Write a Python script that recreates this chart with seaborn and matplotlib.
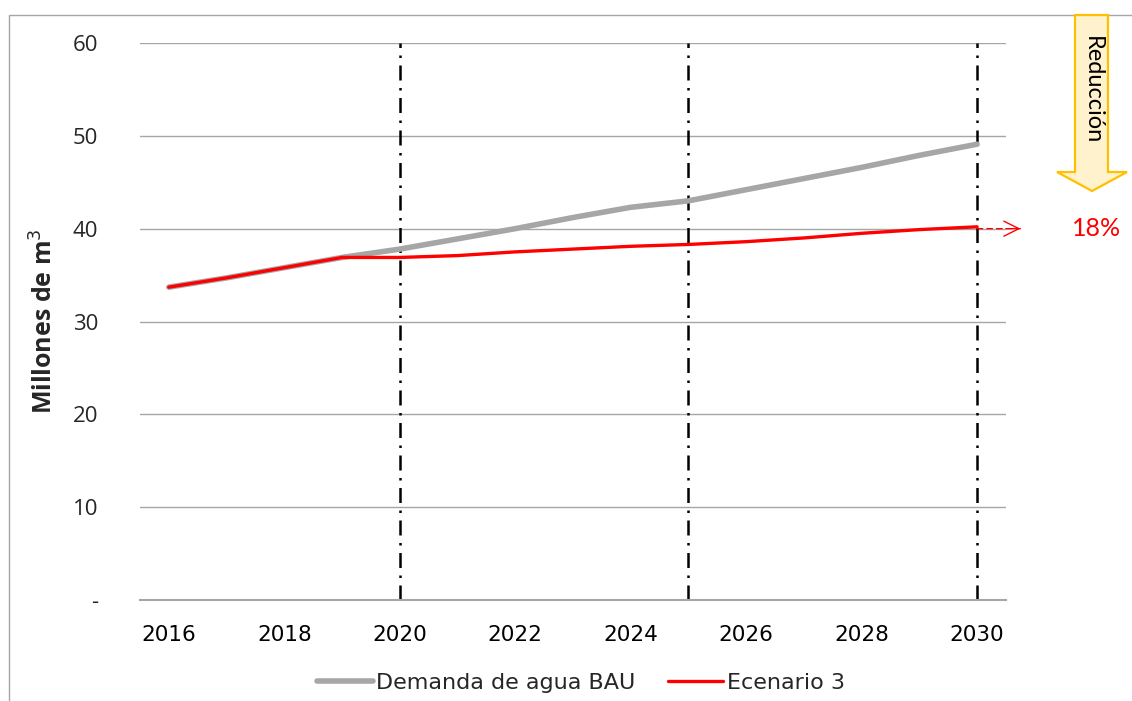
import matplotlib
matplotlib.use("Agg")
import matplotlib.pyplot as plt
from matplotlib.patches import Polygon, Rectangle
from matplotlib.lines import Line2D
import seaborn as sns
import pandas as pd

years = list(range(2016, 2031))
bau = [33.7, 34.7, 35.8, 36.9, 37.8, 38.9, 40.0, 41.2, 42.3, 43.0, 44.2, 45.4, 46.6, 47.9, 49.1]
esc3 = [33.7, 34.7, 35.8, 36.9, 36.9, 37.1, 37.5, 37.8, 38.1, 38.3, 38.6, 39.0, 39.5, 39.9, 40.2]
series_names = ["Demanda de agua BAU", "Ecenario 3"]
xtick_years = [2016, 2018, 2020, 2022, 2024, 2026, 2028, 2030]
ytick_vals = [0, 10, 20, 30, 40, 50, 60]
ytick_labels = ["-", "10", "20", "30", "40", "50", "60"]
milestones = [2020, 2025, 2030]
reduction_label = "18%"

sns.set_theme(style="white")
plt.rcParams['font.family'] = ['Lato', 'DejaVu Sans']

df = pd.DataFrame({
    "year": years * 2,
    "value": bau + esc3,
    "serie": [series_names[0]] * len(years) + [series_names[1]] * len(years),
})

fig = plt.figure(figsize=(11.32, 7.01), dpi=100)
fig.patch.set_facecolor("white")
ax = fig.add_axes([140/1132, 1-600/701, (1006-140)/1132, (600-43)/701])

# frame around chart area
fig.patches.append(Rectangle((9/1132, -0.1), 1.2, 1-15/701+0.1, transform=fig.transFigure,
                             fill=False, edgecolor="#A6A6A6", lw=1.0, zorder=0))

for y in ytick_vals[1:]:
    ax.axhline(y, color="#A6A6A6", lw=1.0, zorder=1)

for m in milestones:
    ax.axvline(m, color="black", lw=1.8, ls=(0, (6, 3, 1, 3)), zorder=2)

sns.lineplot(data=df[df.serie == series_names[0]], x="year", y="value", color="#A6A6A6",
             linewidth=4.0, ax=ax, legend=False, zorder=3)
sns.lineplot(data=df[df.serie == series_names[1]], x="year", y="value", color="#FF0000",
             linewidth=2.4, ax=ax, legend=False, zorder=4)

ax.set_xlim(2015.5, 2030.5)
ax.set_ylim(0, 60)
ax.set_xticks(xtick_years)
ax.set_xticklabels([str(y) for y in xtick_years], fontsize=15.5,
                   family=['Liberation Sans Narrow', 'DejaVu Sans'])
ax.set_yticks(ytick_vals)
ax.set_yticklabels(ytick_labels, fontsize=16, family=['Open Sans', 'DejaVu Sans'])
ax.tick_params(axis='x', length=0, pad=18, colors="black")
ax.tick_params(axis='y', length=0, pad=30, colors="#262626")
for s in ["top", "right", "left"]:
    ax.spines[s].set_visible(False)
ax.spines["bottom"].set_color("#A6A6A6")
ax.spines["bottom"].set_linewidth(1.5)
ax.set_xlabel("")
ax.set_ylabel("Millones de m$^3$", fontsize=18, fontweight="bold",
              family=['Open Sans', 'DejaVu Sans'], labelpad=10)
ax.grid(False)

# dashed red arrow from 2030 point
ax.annotate("", xy=(2030.75, 40.0), xytext=(2030.0, 40.0), xycoords="data",
            arrowprops=dict(arrowstyle="-", ls=(0, (4, 3)), color="#FF0000", lw=1.0,
                            shrinkA=0, shrinkB=0), annotation_clip=False)
ax.annotate("", xy=(2030.75, 40.0), xytext=(2030.5, 40.0), xycoords="data",
            arrowprops=dict(arrowstyle="->,head_length=0.9,head_width=0.45", color="#FF0000",
                            lw=1.0, shrinkA=0, shrinkB=0), annotation_clip=False)
fig.text(1097/1132, 1-229/701, reduction_label, color="#FF0000", fontsize=18,
         ha="center", va="center")

# "Reducción" block arrow
def fp(x, y):
    return (x/1132, 1-y/701)
pts = [fp(1075, 15), fp(1108, 15), fp(1108, 172), fp(1127, 172), fp(1092, 191),
       fp(1057, 172), fp(1075, 172)]
fig.patches.append(Polygon(pts, closed=True, transform=fig.transFigure,
                           facecolor="#FFF2CC", edgecolor="#FFC000", lw=1.6, zorder=5))
fig.text(1092/1132, 1-90/701, "Reducción", rotation=-90, fontsize=17, ha="center",
         va="center", color="black", zorder=6)

# legend
handles = [Line2D([0], [0], color="#A6A6A6", lw=4.0),
           Line2D([0], [0], color="#FF0000", lw=2.4)]
fig.legend(handles, series_names, loc="center", bbox_to_anchor=(581/1132, 1-683/701), ncol=2,
           frameon=False, handlelength=2.5, handletextpad=0.15, columnspacing=1.45,
           prop={'family': ['Liberation Sans Narrow', 'DejaVu Sans'], 'size': 16})

fig.savefig("out.png", dpi=100, facecolor="white")
